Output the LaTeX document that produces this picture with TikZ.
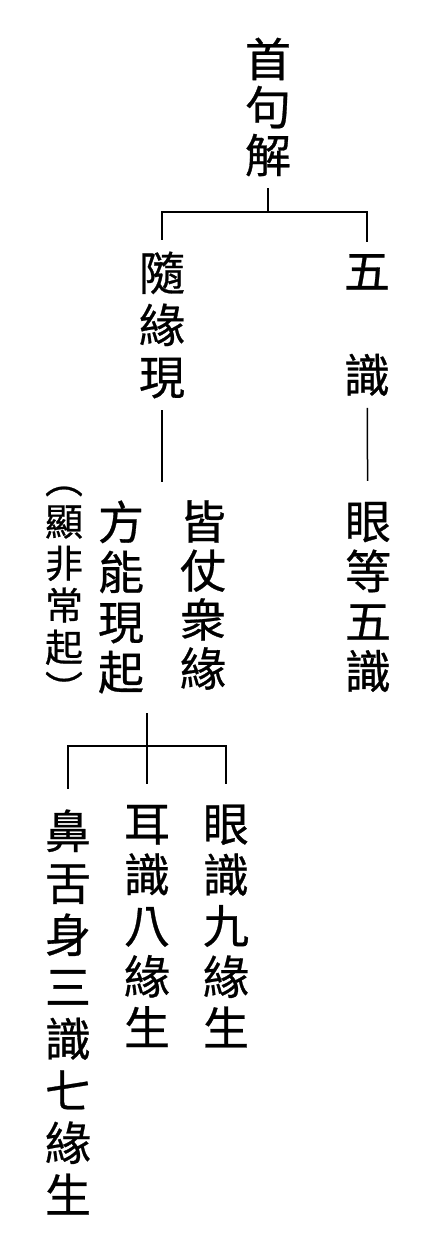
\documentclass[tikz,border=0pt]{standalone}
\usepackage{fontspec}
\newfontfamily\cjk[FakeBold=0.6]{Noto Sans CJK TC}
\usepackage{xcolor}
\definecolor{cInk}{HTML}{000000}
\usepackage{tikz}
\usetikzlibrary{positioning,calc}
\tikzset{
  col-base/.style={inner sep=0pt,align=center,text=cInk},
  col-upper/.style={col-base,outer sep=12pt,font=\cjk\fontsize{46}{52}\selectfont},
  col-lower/.style={col-base,outer sep=21pt,font=\cjk\fontsize{46}{52}\selectfont},
  col-note/.style={col-base,font=\cjk\fontsize{38}{42}\selectfont},
  link/.style={draw=cInk,line width=1.5pt},
}
\begin{document}
\begin{tikzpicture}[x=1pt,y=-1pt]
  \useasboundingbox (0,0) rectangle (435,1250);
  % 第一層
  \node[col-upper,font=\cjk\fontsize{46}{48}\selectfont] (top) at (268,107) {首\\句\\解};
  \node[col-upper] (sui) at (162,325) {隨\\緣\\現};
  \node[col-upper] (wu)  at (367,325) {五\\\phantom{五}\\識};
  % 第二層
  \node[col-note] (note) at (64,595) {︵\\顯\\非\\常\\起\\︶};
  \node[col-lower,font=\cjk\fontsize{46}{50}\selectfont] (fang) at (121,597) {方\\能\\現\\起};
  \node[col-lower,font=\cjk\fontsize{46}{49}\selectfont] (jie)  at (203,595) {皆\\仗\\衆\\緣};
  \node[col-lower,font=\cjk\fontsize{46}{50}\selectfont] (yand) at (368,597) {眼\\等\\五\\識};
  % 第三層
  \node[col-lower] (bi)   at (68,1012) {鼻\\舌\\身\\三\\識\\七\\緣\\生};
  \node[col-lower,font=\cjk\fontsize{46}{51}\selectfont] (er)   at (147,926) {耳\\識\\八\\緣\\生};
  \node[col-lower,font=\cjk\fontsize{46}{51}\selectfont] (yanb) at (226,926) {眼\\識\\九\\緣\\生};
  % 連線
  \coordinate (j1) at (268,212);
  \coordinate (k1) at (162,482);
  \coordinate (k3) at (147,713);
  \coordinate (j2) at (147,746);
  \draw[link] (top) -- (j1);
  \draw[link] (sui.north) |- (j1) -| (wu.north);
  \draw[link] (sui) -- (k1);
  \draw[link] (wu) -- (yand);
  \draw[link] (k3) -- (er);
  \draw[link] (bi.north) |- (j2) -| (yanb.north);
\end{tikzpicture}
\end{document}
